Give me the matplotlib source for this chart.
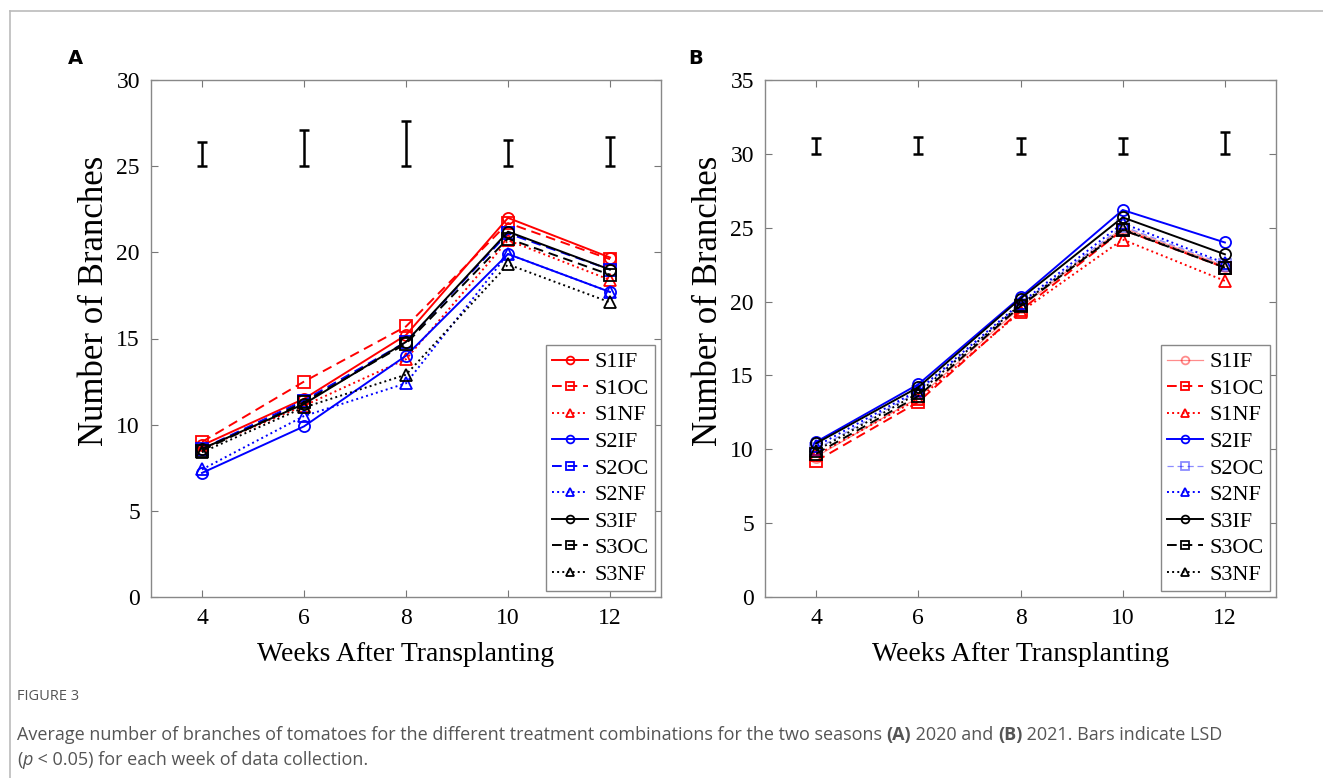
import matplotlib
matplotlib.use("Agg")
import matplotlib.pyplot as plt
from matplotlib.lines import Line2D

# Data
weeks = [4, 6, 8, 10, 12]
treatments = ["S1IF", "S1OC", "S1NF", "S2IF", "S2OC", "S2NF", "S3IF", "S3OC", "S3NF"]

# Season 2020 (A)
a_s1if = [8.8, 11.5, 15.2, 22.0, 19.7]
a_s1oc = [9.0, 12.5, 15.7, 21.7, 19.6]
a_s1nf = [8.6, 11.1, 13.8, 20.7, 18.4]
a_s2if = [7.2, 9.9, 14.0, 19.9, 17.7]
a_s2oc = [8.6, 11.4, 14.8, 21.1, 19.0]
a_s2nf = [7.4, 10.5, 12.4, 19.9, 17.7]
a_s3if = [8.6, 11.2, 14.8, 21.2, 19.0]
a_s3oc = [8.5, 11.3, 14.7, 20.8, 18.7]
a_s3nf = [8.4, 11.0, 12.9, 19.3, 17.1]
a_lsd_base = 25.0
a_lsd = [1.4, 2.1, 2.6, 1.5, 1.7]

# Season 2021 (B)
b_s1if = [9.5, 13.5, 19.6, 25.0, 22.4]
b_s1oc = [9.2, 13.2, 19.4, 24.85, 22.3]
b_s1nf = [9.6, 13.4, 19.3, 24.2, 21.4]
b_s2if = [10.5, 14.4, 20.3, 26.2, 24.0]
b_s2oc = [10.0, 13.9, 19.8, 25.1, 22.5]
b_s2nf = [10.2, 14.0, 19.9, 25.3, 22.6]
b_s3if = [10.4, 14.2, 20.2, 25.7, 23.2]
b_s3oc = [9.7, 13.6, 19.7, 24.85, 22.3]
b_s3nf = [9.9, 13.8, 19.8, 24.9, 22.3]
b_lsd_base = 30.0
b_lsd = [1.05, 1.15, 1.1, 1.1, 1.45]

a_series = [a_s1if, a_s1oc, a_s1nf, a_s2if, a_s2oc, a_s2nf, a_s3if, a_s3oc, a_s3nf]
b_series = [b_s1if, b_s1oc, b_s1nf, b_s2if, b_s2oc, b_s2nf, b_s3if, b_s3oc, b_s3nf]

colors = ["red"] * 3 + ["blue"] * 3 + ["black"] * 3
styles = ["-", (0, (5, 3)), ":"] * 3
markers = ["o", "s", "^"] * 3

serif = ["Liberation Serif", "DejaVu Serif"]
W, H = 1323, 778


def draw_panel(ax, series, lsd_base, lsd, ymax, faded=()):
    # Treatment lines
    for i, (name, vals) in enumerate(zip(treatments, series)):
        alpha = 0.45 if name in faded else 1.0
        lw = 0.9 if name in faded else 1.4
        ax.plot(weeks, vals, linestyle=styles[i], color=colors[i], marker=markers[i],
                markersize=8, markerfacecolor="none", markeredgewidth=1.3,
                linewidth=lw, alpha=alpha, label=name)

    # LSD bars
    ax.errorbar(weeks, [lsd_base + d / 2 for d in lsd], yerr=[d / 2 for d in lsd],
                fmt="none", ecolor="black", elinewidth=1.8, capsize=3.5, capthick=1.8)

    # Axes features
    ax.set_xlim(3, 13)
    ax.set_ylim(0, ymax)
    ax.set_xticks(weeks)
    ax.set_yticks(range(0, ymax + 1, 5))
    ax.tick_params(direction="in", top=True, right=True, length=5, width=0.8,
                   color="#777777", labelsize=17, pad=8)
    for lab in ax.get_xticklabels() + ax.get_yticklabels():
        lab.set_family(serif)
    for sp in ax.spines.values():
        sp.set_color("#888888")
        sp.set_linewidth(1.0)
    ax.set_xlabel("Weeks After Transplanting", family=serif, fontsize=20, labelpad=9)
    ax.set_ylabel("Number of Branches", family=serif, fontsize=25)
    ax.yaxis.set_label_coords(-40 / 510, 0.573)

    leg = ax.legend(loc="lower right", prop={"family": serif, "size": 16},
                    handlelength=1.6, handletextpad=0.3, labelspacing=0.27,
                    borderpad=0.3, borderaxespad=0.25, markerscale=0.7,
                    fancybox=False, framealpha=1, edgecolor="#888888")
    leg.get_frame().set_linewidth(1.0)


fig = plt.figure(figsize=(13.23, 7.78), dpi=100)

ax_a = fig.add_axes([151 / W, 1 - 597 / H, 510 / W, 517 / H])
ax_b = fig.add_axes([765 / W, 1 - 597 / H, 511 / W, 517 / H])

draw_panel(ax_a, a_series, a_lsd_base, a_lsd, 30)
draw_panel(ax_b, b_series, b_lsd_base, b_lsd, 35, faded=("S1IF", "S2OC"))

# Panel letters
fig.text(75 / W, 1 - 58 / H, "A", fontsize=14, fontweight="bold", family="DejaVu Sans",
         ha="center", va="center")
fig.text(696 / W, 1 - 58 / H, "B", fontsize=14, fontweight="bold", family="DejaVu Sans",
         ha="center", va="center")

# Outer frame
fig.add_artist(Line2D([10 / W, 10 / W], [0, 1 - 11 / H], color="#bbbbbb", linewidth=1.2,
                      transform=fig.transFigure))
fig.add_artist(Line2D([10 / W, 1], [1 - 11 / H, 1 - 11 / H], color="#bbbbbb", linewidth=1.2,
                      transform=fig.transFigure))

# Caption
cap_font = ["Open Sans", "DejaVu Sans"]
cap_color = "#555555"
fig.text(17 / W, 1 - 697 / H, "FIGURE 3", fontsize=10.5, family=cap_font, color=cap_color,
         va="center")

fig.canvas.draw()
renderer = fig.canvas.get_renderer()


def write_run(x_px, y_px, parts):
    x = x_px
    for txt, weight, style in parts:
        t = fig.text(x / W, 1 - y_px / H, txt, fontsize=13, family=cap_font,
                     color=cap_color, fontweight=weight, fontstyle=style, va="center")
        x += t.get_window_extent(renderer).width


write_run(17, 735, [
    ("Average number of branches of tomatoes for the different treatment combinations for the two seasons ",
     "normal", "normal"),
    ("(A)", "bold", "normal"),
    (" 2020 and ", "normal", "normal"),
    ("(B)", "bold", "normal"),
    (" 2021. Bars indicate LSD", "normal", "normal"),
])
write_run(17, 760, [
    ("(", "normal", "normal"),
    ("p", "normal", "italic"),
    (" < 0.05) for each week of data collection.", "normal", "normal"),
])

fig.savefig("out.png", dpi=100)
